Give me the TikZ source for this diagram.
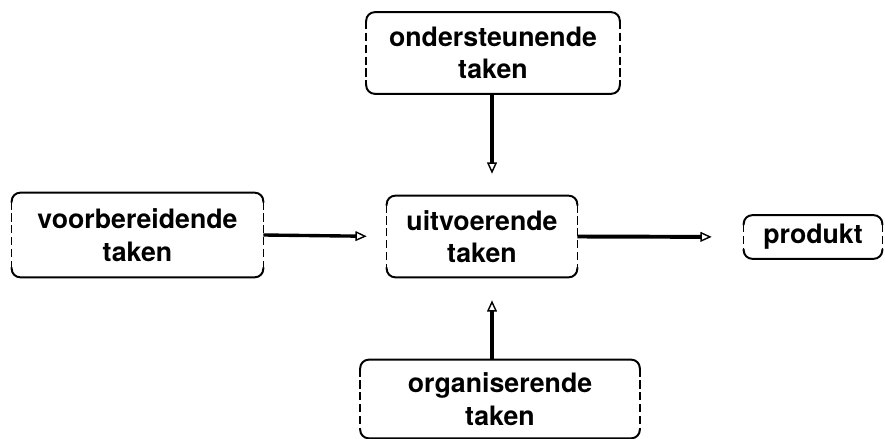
\documentclass[tikz,border=0pt]{standalone}
\usepackage{fontspec}
\setmainfont{TeX Gyre Heros}
\usepackage{tikz}
\usetikzlibrary{arrows.meta,positioning}
\tikzstyle{arrow} = [line width=2.4pt,-{Triangle[open,length=8pt,width=7pt,line width=1pt]}]
\tikzstyle{taak} = [rectangle, align=center, font=\fontsize{19}{23}\selectfont\bfseries, inner sep=2pt]
\tikzstyle{rand} = [line width=1.4pt, rounded corners=6pt]
\tikzstyle{zijkant} = [line width=1.1pt, dash pattern=on 6pt off 2.5pt]

\begin{document}
\begin{tikzpicture}[x=0.025cm, y=-0.025cm]
\useasboundingbox (0,0) rectangle (885,439);
% Boxes
\node (onder) [taak, minimum width=6.325cm, minimum height=2.025cm] at (493,53) {ondersteunende\\taken};
\node (voor) [taak, minimum width=6.275cm, minimum height=2.1cm] at (137.5,235) {voorbereidende\\taken};
\node (uit) [taak, minimum width=4.75cm, minimum height=2.025cm] at (482,236.5) {uitvoerende\\taken};
\node (prod) [taak, minimum width=3.45cm, minimum height=1.075cm] at (813,237) {produkt};
\node (org) [taak, minimum width=6.975cm, minimum height=1.95cm] at (500,399) {organiserende\\taken};

% Box outlines: solid top and bottom, broken sides
\foreach \n in {onder,voor,uit,prod,org} {
  \draw[rand] ([yshift=-7pt]\n.north west) -- (\n.north west) -- (\n.north east) -- ([yshift=-7pt]\n.north east);
  \draw[rand] ([yshift=7pt]\n.south west) -- (\n.south west) -- (\n.south east) -- ([yshift=7pt]\n.south east);
  \draw[zijkant] ([yshift=-6pt]\n.north west) -- ([yshift=6pt]\n.south west);
  \draw[zijkant] ([yshift=-6pt]\n.north east) -- ([yshift=6pt]\n.south east);
}

% Connections
\draw[arrow, shorten >=0.55cm] (onder.south -| {(492,0)}) -- (uit.north -| {(492,0)});
\draw[arrow, shorten >=0.5cm] (voor.east) -- (uit.west);
\draw[arrow, line width=2.8pt, shorten >=0.8cm] (uit.east) -- (prod.west);
\draw[arrow, shorten >=0.575cm] (org.north -| {(492,0)}) -- (uit.south -| {(492,0)});
\end{tikzpicture}
\end{document}
